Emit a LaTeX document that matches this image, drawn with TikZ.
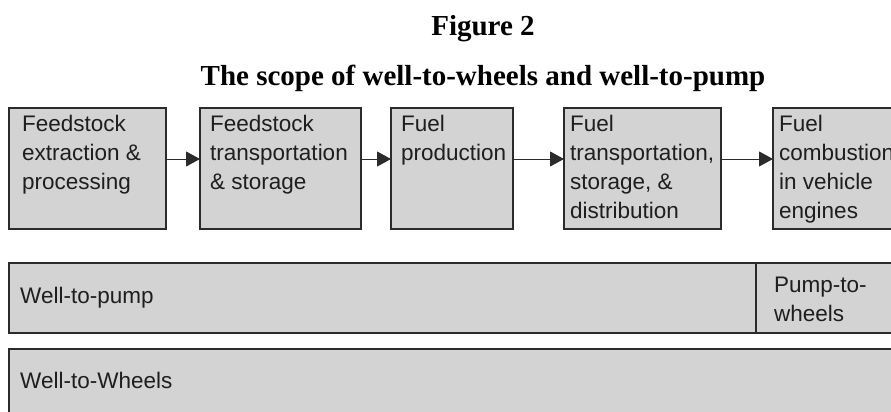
\documentclass[tikz,border=0pt]{standalone}
\usepackage{fontspec}
\setmainfont{Liberation Serif}
\newfontfamily\boxfont{Liberation Sans}
\usetikzlibrary{arrows.meta}
\definecolor{boxgray}{HTML}{D3D3D3}
\definecolor{edgegray}{HTML}{2B2B2B}
\definecolor{inkgray}{HTML}{1E1E1E}

\begin{document}
\begin{tikzpicture}[x=1pt,y=-1pt,
  stage/.style={draw=edgegray, line width=2.2pt, fill=boxgray, inner sep=0pt,
                outer sep=0pt, anchor=north west},
  % multi-line labels: the base anchor sits on the last line
  lbl/.style={font=\boxfont\fontsize{22.5}{29}\selectfont, align=left,
              anchor=base west, inner sep=0pt, text=inkgray},
  heading/.style={font=\bfseries\fontsize{29}{34}\selectfont, anchor=base,
                  inner sep=0pt},
  flow/.style={line width=0.9pt, draw=edgegray,
               -{Triangle[length=14pt,width=15pt]}}
]
\useasboundingbox (0,0) rectangle (891,412);
\clip (0,0) rectangle (891,412);

% titles
\node[heading] (fig) at (483,36) {Figure 2};
\node[heading] (title) at (483,85) {The scope of well-to-wheels and well-to-pump};

% process chain
\node[stage, minimum width=157pt, minimum height=121pt] (b1) at (9,108) {};
\node[stage, minimum width=161pt, minimum height=121pt] (b2) at (200,108) {};
\node[stage, minimum width=122pt, minimum height=121pt] (b3) at (391,108) {};
\node[stage, minimum width=157pt, minimum height=121pt] (b4) at (564,108) {};
\node[stage, minimum width=150pt, minimum height=121pt] (b5) at (773,108) {};

\node[lbl] (t1) at (22,189) {Feedstock\\extraction \&\\processing};
\node[lbl] (t2) at (210,189) {Feedstock\\transportation\\\& storage};
\node[lbl] (t3) at (401,160) {Fuel\\production};
\node[lbl] (t4) at (570,218) {Fuel\\transportation,\\storage, \&\\distribution};
\node[lbl] (t5) at (779,218) {Fuel\\combustion\\in vehicle\\engines};

\foreach \a/\b in {b1/b2, b2/b3, b3/b4, b4/b5}
  \draw[flow] ([yshift=9.5pt]\a.east) -- ([yshift=9.5pt]\b.west);

% scope bars
\node[stage, minimum width=747pt, minimum height=70pt] (wtp) at (9,263) {};
\node[stage, minimum width=160pt, minimum height=70pt] (ptw) at (756,263) {};
\node[stage, minimum width=910pt, minimum height=90pt] (wtw) at (9,349) {};

\node[lbl] (wtpl) at (20,303) {Well-to-pump};
\node[lbl] (ptwl) at (774,321) {Pump-to-\\wheels};
\node[lbl] (wtwl) at (20,388) {Well-to-Wheels};
\end{tikzpicture}
\end{document}
